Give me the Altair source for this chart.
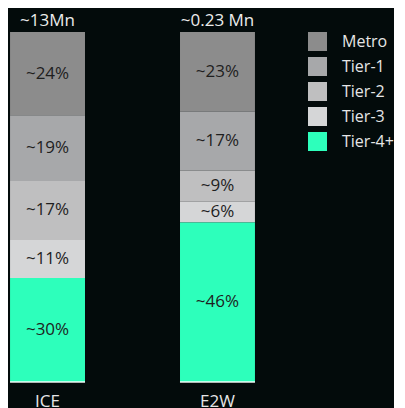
import altair as alt
import pandas as pd

categories = ["ICE", "E2W"]
segments = ["Metro", "Tier-1", "Tier-2", "Tier-3", "Tier-4+"]
ice_share = [24, 19, 17, 11, 30]
e2w_share = [23, 17, 9, 6, 46]
totals = ["~13Mn", "~0.23 Mn"]
colors = ["#8c8c8c", "#a7a8aa", "#bfbfc0", "#d5d6d7", "#2dffbb"]

FONT = "Open Sans"
BG = "#030b0b"

rows = []
for cat, shares in zip(categories, [ice_share, e2w_share]):
    for i, (seg, v) in enumerate(zip(segments, shares)):
        rows.append({"cat": cat, "seg": seg, "v": v, "ord": len(segments) - i, "label": f"~{v}%"})
df = pd.DataFrame(rows)
tot_df = pd.DataFrame({"cat": categories, "total": totals})

x_enc = alt.X(
    "cat:N",
    sort=categories,
    scale=alt.Scale(paddingInner=0.559, paddingOuter=0.012),
    axis=alt.Axis(title=None, labelAngle=0, ticks=False, domain=False, labelFontSize=17,
                  labelColor="#e6e6e6", labelPadding=11, labelFont=FONT, labelFontWeight="normal"),
)
yscale = alt.Scale(domain=[0, 1])

base = (
    alt.Chart(df)
    .transform_joinaggregate(tot="sum(v)", groupby=["cat"])
    .transform_calculate(f="datum.v / datum.tot")
    .transform_stack(stack="f", as_=["y0", "y1"], groupby=["cat"],
                     sort=[alt.SortField("ord", order="ascending")])
    .transform_calculate(mid="(datum.y0 + datum.y1) / 2")
)

bars = base.mark_bar().encode(
    x=x_enc,
    y=alt.Y("y0:Q", scale=yscale, axis=None),
    y2="y1:Q",
    color=alt.Color(
        "seg:N",
        scale=alt.Scale(domain=segments, range=colors),
        legend=alt.Legend(
            title=None, orient="none", legendX=300, legendY=0, padding=0,
            symbolType="square", symbolSize=361, symbolStrokeWidth=0, symbolOpacity=1,
            labelFontSize=16, labelColor="#e6e6e6", labelFont=FONT, labelOffset=15,
            rowPadding=6,
        ),
    ),
)

labels = base.mark_text(fontSize=17, color="#1e1e1e", font=FONT).encode(
    x=x_enc,
    y=alt.Y("mid:Q", scale=yscale, axis=None),
    text="label:N",
)

top_text = alt.Chart(tot_df).mark_text(dy=-11, fontSize=17, color="#ececec", font=FONT).encode(
    x=x_enc,
    y=alt.datum(1, scale=yscale),
    text="total:N",
)

baseline = alt.Chart(tot_df).mark_tick(color="white", thickness=2, size=75).encode(
    x=x_enc,
    y=alt.datum(0, scale=yscale),
)

chart = (
    alt.layer(bars, labels, top_text, baseline)
    .properties(width=249, height=350, padding={"left": 0, "top": 4, "right": 0, "bottom": 0},
                background=BG)
    .configure_view(stroke=None)
)

chart.save("out.html", embed_options={"renderer": "svg", "actions": False})
